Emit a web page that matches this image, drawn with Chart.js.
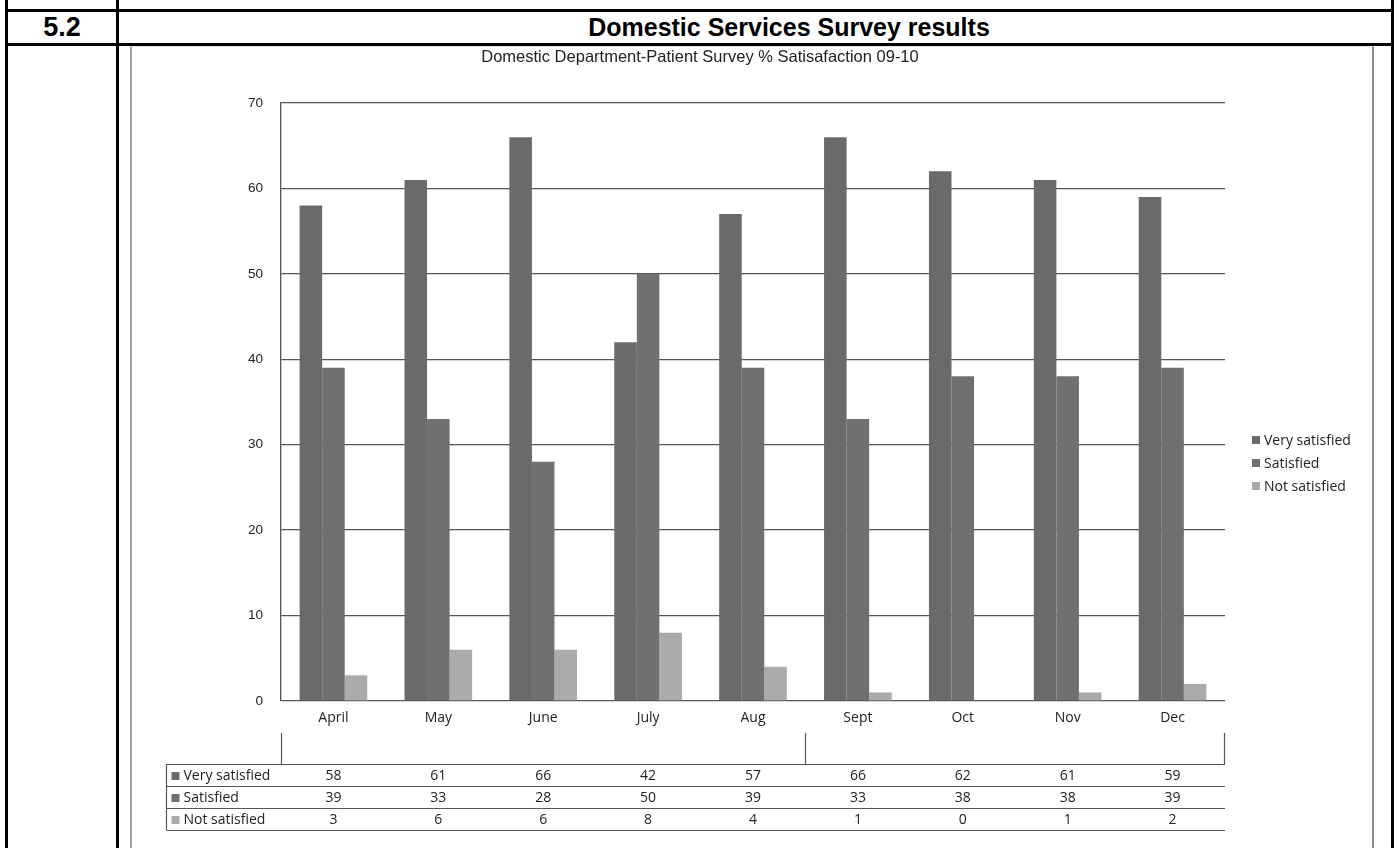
<!DOCTYPE html>
<html>
<head>
<meta charset="utf-8">
<script src="https://cdn.jsdelivr.net/npm/chart.js@4.4.1/dist/chart.umd.min.js"></script>
<style>
  html, body { margin: 0; padding: 0; background: #fff; }
  body { width: 1399px; height: 848px; position: relative; overflow: hidden; font-family: "Liberation Sans", Arial, sans-serif; }
  .ln { position: absolute; background: #000; }
  .hdr { position: absolute; font-weight: bold; font-size: 25px; color: #000; text-align: center; line-height: 31px; }
  #scan { position: absolute; left: 130px; top: 46px; width: 1244px; height: 802px; border-left: 2px solid #a0a0a0; border-right: 2px solid #8a8a8a; border-top: 1px solid #e2e2e2; box-sizing: border-box; }
  #wrap { position: absolute; left: 134px; top: 46px; width: 1241px; height: 802px; }
</style>
</head>
<body>
<div class="ln" style="left:5px;top:0;width:3px;height:848px"></div>
<div class="ln" style="left:116px;top:0;width:3px;height:848px"></div>
<div class="ln" style="left:1391px;top:0;width:3px;height:848px"></div>
<div class="ln" style="left:5px;top:9px;width:1389px;height:3px"></div>
<div class="ln" style="left:5px;top:43px;width:1389px;height:3px"></div>
<div class="hdr" style="left:8px;top:12px;width:108px;font-size:27px;">5.2</div>
<div class="hdr" style="left:187px;top:12px;width:1204px;">Domestic Services Survey results</div>
<div id="scan"></div>
<div id="wrap"><canvas id="c" width="1241" height="802"></canvas></div>
<script>
const chartTitle = "Domestic Department-Patient Survey % Satisafaction 09-10";
const months = ["April", "May", "June", "July", "Aug", "Sept", "Oct", "Nov", "Dec"];
const seriesNames = ["Very satisfied", "Satisfied", "Not satisfied"];
const verySatisfied = [58, 61, 66, 42, 57, 66, 62, 61, 59];
const satisfied = [39, 33, 28, 50, 39, 33, 38, 38, 39];
const notSatisfied = [3, 6, 6, 8, 4, 1, 0, 1, 2];
const yTicks = [0, 10, 20, 30, 40, 50, 60, 70];
const seriesColors = ["#6a6a6a", "#707070", "#ababab"];

const LABEL_FONT = "14px 'Open Sans', Lato, sans-serif";
const TEXT_COLOR = "#222";
const LINE_COLOR = "#555";

const extrasPlugin = {
  id: "extras",
  afterDraw(chart) {
    const ctx = chart.ctx;
    const xs = chart.scales.x;
    const area = chart.chartArea;
    ctx.save();
    // Chart title
    ctx.font = "16.5px 'Liberation Sans', Arial, sans-serif";
    ctx.fillStyle = "#222";
    ctx.textAlign = "center";
    ctx.textBaseline = "middle";
    ctx.fillText(chartTitle, 566, 11);
    // Legend on the right
    const legX = 1118, legY = [394, 417, 440];
    ctx.font = LABEL_FONT;
    ctx.textAlign = "left";
    chart.data.datasets.forEach((ds, i) => {
      ctx.fillStyle = ds.backgroundColor;
      ctx.fillRect(legX, legY[i] - 4, 8, 8);
      ctx.fillStyle = TEXT_COLOR;
      ctx.fillText(ds.label, legX + 12, legY[i] + 1);
    });
    // Bracket lines under the axis
    ctx.strokeStyle = LINE_COLOR;
    ctx.lineWidth = 1.2;
    const brTop = 687, tblTop = 718;
    const half = (xs.getPixelForValue(1) - xs.getPixelForValue(0)) / 2;
    const midX = Math.round(xs.getPixelForValue(4) + half) + 0.5;
    [Math.round(area.left) + 0.5, midX, Math.round(area.right) - 0.5].forEach(x => {
      ctx.beginPath(); ctx.moveTo(x, brTop); ctx.lineTo(x, tblTop); ctx.stroke();
    });
    // Data table
    const tblLeft = 32.5, rows = [718, 740, 762, 784];
    rows.forEach(y => {
      ctx.beginPath(); ctx.moveTo(tblLeft, y + 0.5); ctx.lineTo(area.right, y + 0.5); ctx.stroke();
    });
    ctx.beginPath(); ctx.moveTo(tblLeft, rows[0]); ctx.lineTo(tblLeft, rows[3]); ctx.stroke();
    chart.data.datasets.forEach((ds, r) => {
      const cy = (rows[r] + rows[r + 1]) / 2 + 1;
      ctx.fillStyle = ds.backgroundColor;
      ctx.fillRect(tblLeft + 5, cy - 4, 8, 8);
      ctx.fillStyle = TEXT_COLOR;
      ctx.textAlign = "left";
      ctx.fillText(ds.label, tblLeft + 17, cy);
      ctx.textAlign = "center";
      ds.data.forEach((v, i) => {
        ctx.fillText(String(v), xs.getPixelForValue(i), cy);
      });
    });
    ctx.restore();
  }
};

new Chart(document.getElementById("c"), {
  type: "bar",
  data: {
    labels: months,
    datasets: [
      { label: seriesNames[0], data: verySatisfied, backgroundColor: seriesColors[0] },
      { label: seriesNames[1], data: satisfied, backgroundColor: seriesColors[1] },
      { label: seriesNames[2], data: notSatisfied, backgroundColor: seriesColors[2] }
    ]
  },
  options: {
    responsive: false,
    animation: false,
    devicePixelRatio: 1,
    datasets: { bar: { barPercentage: 1.0, categoryPercentage: 0.645 } },
    layout: { padding: { left: 0, right: 150, top: 57, bottom: 117 } },
    plugins: {
      legend: { display: false },
      tooltip: { enabled: false },
      title: { display: false }
    },
    scales: {
      x: {
        grid: { display: false, drawTicks: false },
        border: { display: false },
        ticks: { color: TEXT_COLOR, font: { family: "'Open Sans', Lato, sans-serif", size: 14 }, padding: 9, maxRotation: 0 },
        afterFit(scale) { scale.height = 30; }
      },
      y: {
        min: 0, max: 70,
        afterBuildTicks(scale) { scale.ticks = yTicks.map(v => ({ value: v })); },
        grid: { color: LINE_COLOR, lineWidth: 1.3, drawTicks: false },
        border: { display: true, color: LINE_COLOR, width: 1.3 },
        ticks: { color: "#222", font: { family: "'Liberation Sans', Arial, sans-serif", size: 13.5 }, padding: 18 },
        afterFit(scale) { scale.width = 147; }
      }
    }
  },
  plugins: [extrasPlugin]
});
</script>
</body>
</html>
